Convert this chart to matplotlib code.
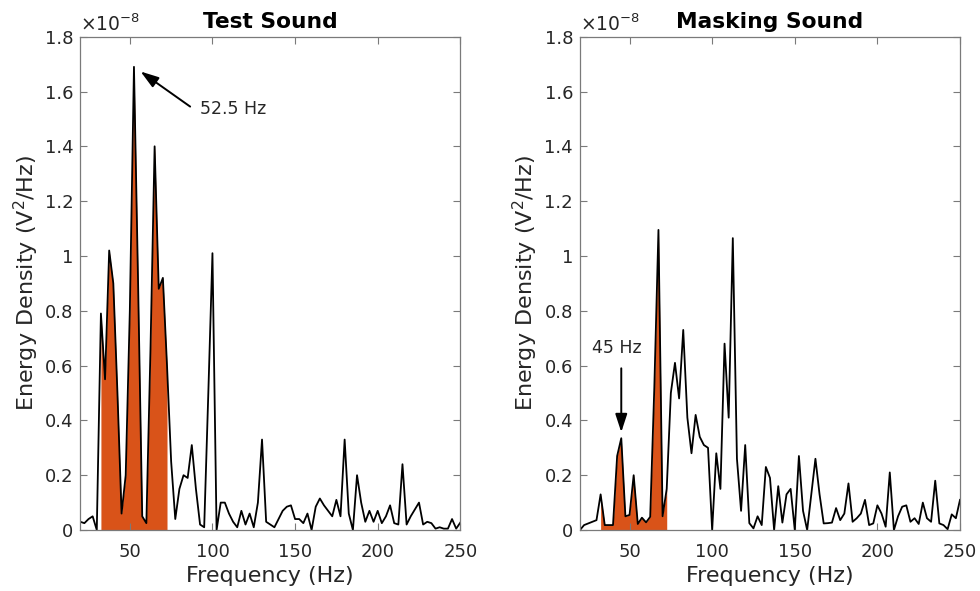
import matplotlib
matplotlib.use('Agg')
import matplotlib.pyplot as plt
import numpy as np
from matplotlib.ticker import FuncFormatter

# frequency grid (Hz), 2.5 Hz resolution
freq = np.arange(20, 252.5, 2.5)

# energy density in units of 1e-8 V^2/Hz
test_vals = [0.03, 0.025, 0.04, 0.05, 0.0,
             0.79, 0.55, 1.02, 0.9, 0.5,
             0.06, 0.2, 0.8, 1.69, 0.9,
             0.05, 0.025, 0.66, 1.40, 0.88,
             0.92, 0.6, 0.25, 0.04, 0.15,
             0.2, 0.19, 0.31, 0.15, 0.02,
             0.01, 0.5, 1.01, 0.0, 0.1,
             0.1, 0.06, 0.03, 0.01, 0.07,
             0.02, 0.06, 0.01, 0.1, 0.33,
             0.03, 0.02, 0.01, 0.04, 0.07,
             0.085, 0.09, 0.04, 0.04, 0.025,
             0.06, 0.0, 0.085, 0.115, 0.09,
             0.07, 0.05, 0.11, 0.05, 0.33,
             0.06, 0.0, 0.2, 0.1, 0.03,
             0.07, 0.03, 0.07, 0.025, 0.05,
             0.09, 0.025, 0.02, 0.24, 0.02,
             0.05, 0.075, 0.1, 0.02, 0.03,
             0.025, 0.005, 0.01, 0.005, 0.005,
             0.04, 0.005, 0.027]

mask_vals = [0.0, 0.018, 0.024, 0.03, 0.036,
             0.13, 0.018, 0.018, 0.018, 0.27,
             0.335, 0.05, 0.055, 0.2, 0.022,
             0.045, 0.028, 0.048, 0.52, 1.095,
             0.05, 0.15, 0.5, 0.61, 0.48,
             0.73, 0.41, 0.28, 0.42, 0.34,
             0.31, 0.30, 0.0, 0.28, 0.15,
             0.68, 0.41, 1.065, 0.26, 0.07,
             0.31, 0.025, 0.006, 0.05, 0.018,
             0.23, 0.19, 0.0, 0.16, 0.027,
             0.13, 0.15, 0.0, 0.27, 0.07,
             0.0, 0.13, 0.26, 0.13, 0.024,
             0.025, 0.027, 0.08, 0.036, 0.06,
             0.17, 0.03, 0.043, 0.06, 0.11,
             0.018, 0.024, 0.09, 0.06, 0.012,
             0.21, 0.0, 0.05, 0.085, 0.09,
             0.03, 0.043, 0.022, 0.1, 0.043,
             0.03, 0.18, 0.024, 0.018, 0.003,
             0.057, 0.043, 0.11]

band = (32.5, 72.5)   # shaded band (Hz)
titles = ['Test Sound', 'Masking Sound']
peak_labels = ['52.5 Hz', '45 Hz']
peak_freqs = [52.5, 45]

fillcolor = '#D95319'
axcolor = '#7a7a7a'
txtcolor = '#262626'
arrow = dict(arrowstyle='-|>,head_length=0.55,head_width=0.18', color='k',
             lw=1.4, mutation_scale=20, shrinkA=0, shrinkB=0)

fig = plt.figure(figsize=(9.8, 5.91), dpi=100)
ax1 = fig.add_axes([0.0819, 0.1032, 0.3878, 0.8347])
ax2 = fig.add_axes([0.5918, 0.1032, 0.3878, 0.8347])

for ax, vals, title in zip([ax1, ax2], [test_vals, mask_vals], titles):
    vals = np.array(vals)
    inband = (freq >= band[0]) & (freq <= band[1])
    ax.fill_between(freq, 0, vals, where=inband, color=fillcolor,
                    linewidth=0)
    ax.plot(freq, vals, color='k', lw=1.3)
    ax.set_xlim(20, 250)
    ax.set_ylim(0, 1.8)
    ax.set_xticks([50, 100, 150, 200, 250])
    ax.set_yticks(np.arange(0, 1.81, 0.2))
    ax.yaxis.set_major_formatter(FuncFormatter(lambda v, p: '%g' % round(v, 2)))
    ax.tick_params(direction='in', top=True, right=True, length=5,
                   width=0.8, color=axcolor, labelsize=13,
                   labelcolor=txtcolor)
    ax.tick_params(axis='x', pad=9)
    ax.tick_params(axis='y', pad=5)
    for s in ax.spines.values():
        s.set_color(axcolor)
        s.set_linewidth(0.9)
    ax.set_title(title, fontsize=15.7, fontweight='bold', pad=6)
    ax.set_xlabel('Frequency (Hz)', fontsize=16, color=txtcolor, labelpad=4)
    ax.set_ylabel('Energy Density (V$^2$/Hz)', fontsize=16,
                  color=txtcolor, labelpad=3)
    ax.text(0.0, 1.004, r'$\times10^{-8}$', transform=ax.transAxes,
            ha='left', va='bottom', fontsize=13.5, color=txtcolor)

# arrows pointing to the marked peaks
f0 = peak_freqs[0]
v0 = test_vals[list(freq).index(f0)]
ax1.text(f0 + 40, v0 - 0.155, peak_labels[0], fontsize=12.5,
         color=txtcolor, ha='left', va='center')
ax1.annotate('', xy=(f0 + 4, v0 - 0.017), xytext=(f0 + 34, v0 - 0.145),
             arrowprops=arrow)

f1 = peak_freqs[1]
v1 = mask_vals[list(freq).index(f1)]
ax2.text(f1 - 2.6, v1 + 0.33, peak_labels[1], fontsize=12.5,
         color=txtcolor, ha='center', va='center')
ax2.annotate('', xy=(f1, v1 + 0.022), xytext=(f1, v1 + 0.255),
             arrowprops=arrow)

plt.savefig('out.png', dpi=100)
